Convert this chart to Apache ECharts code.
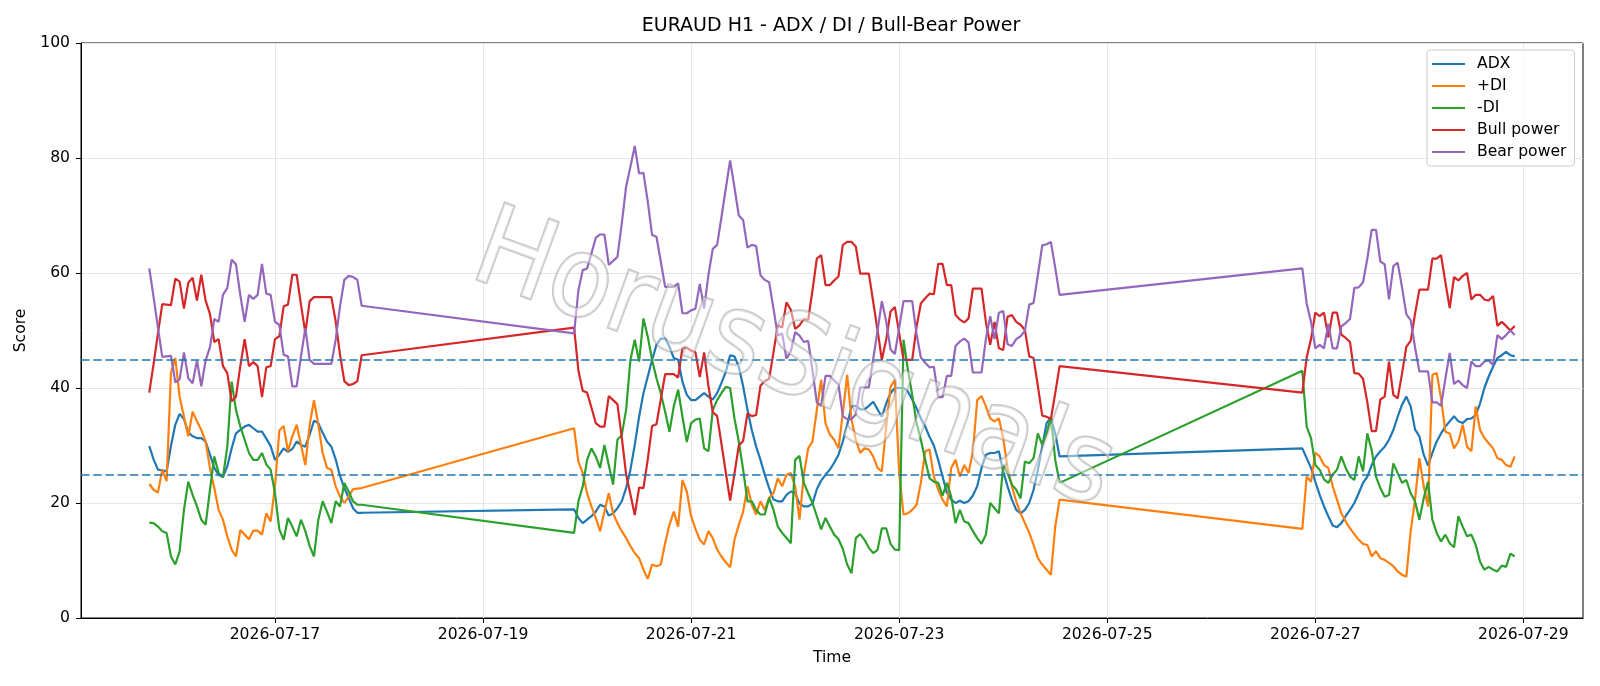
<!DOCTYPE html>
<html>
<head>
<meta charset="utf-8">
<title>EURAUD H1 - ADX / DI / Bull-Bear Power</title>
<script src="https://cdn.jsdelivr.net/npm/echarts@6/dist/echarts.min.js"></script>
<style>
  html, body { margin: 0; padding: 0; background: #fff; }
  #chart { width: 1600px; height: 686px; }
</style>
</head>
<body>
<div id="chart"></div>
<script>
const FONT = '"DejaVu Sans", sans-serif'

// hourly bars, three trading blocks (weekend gaps in between)
const segmentStarts = [[2026, 7, 15, 19], [2026, 7, 19, 21], [2026, 7, 26, 21]]
const segmentHours = [50, 113, 50]
const tickDays = ['2026-07-17', '2026-07-19', '2026-07-21', '2026-07-23', '2026-07-25', '2026-07-27', '2026-07-29']
const yTicks = [0, 20, 40, 60, 80, 100]
const levels = [45, 25]

const seriesNames = ['ADX', '+DI', '-DI', 'Bull power', 'Bear power']
const colors = ['#1f77b4', '#ff7f0e', '#2ca02c', '#d62728', '#9467bd']

const adx = [
  29.9, 27.6, 25.8, 25.7, 25.5, 29.9, 33.6, 35.5, 34.6, 32.3,
  31.6, 31.3, 31.3, 30.7, 28.4, 26.1, 24.9, 24.5, 26.4, 29.5,
  32.1, 32.7, 33.3, 33.6, 33.0, 32.4, 32.4, 31.2, 29.9, 27.5,
  28.4, 29.5, 28.9, 29.4, 30.7, 30.1, 29.8, 31.9, 34.3, 33.9,
  32.2, 30.7, 29.8, 27.6, 24.7, 22.6, 20.9, 19.1, 18.3, 18.3,
  18.9, 17.4, 16.5, 17.1, 17.7, 18.5, 19.7, 19.4, 17.8, 18.2,
  19.1, 20.3, 22.6, 25.8, 30.1, 35.0, 39.1, 42.0, 44.9, 47.5,
  48.6, 48.6, 47.2, 45.2, 44.9, 41.1, 38.8, 37.9, 37.9, 38.5,
  39.1, 38.5, 38.0, 39.1, 40.9, 42.8, 45.7, 45.5, 43.7, 40.3,
  36.2, 32.7, 29.8, 27.5, 24.9, 22.6, 20.6, 20.3, 20.3, 21.4,
  22.0, 21.7, 19.9, 19.4, 19.4, 19.9, 22.4, 23.9, 24.9, 25.8,
  27.0, 28.4, 30.7, 33.6, 36.8, 36.9, 36.3, 36.3, 36.9, 37.6,
  36.3, 35.0, 37.3, 39.1, 40.0, 40.0, 40.0, 39.4, 38.0, 36.5,
  34.7, 33.3, 31.5, 30.0, 27.5, 24.6, 21.8, 20.6, 20.0, 20.4,
  20.0, 20.3, 21.3, 22.9, 26.1, 28.4, 28.7, 28.7, 29.0, 25.5,
  22.9, 20.6, 18.8, 18.2, 18.8, 20.0, 22.3, 25.8, 29.8, 33.9,
  34.9, 32.1, 28.1,
  29.5, 27.8, 26.1, 23.7, 21.4, 19.4, 17.7, 16.1, 15.8, 16.5,
  17.7, 18.8, 20.0, 21.7, 23.5, 24.6, 26.6, 28.1, 29.0, 29.8,
  31.0, 32.7, 35.0, 37.1, 38.5, 36.8, 32.8, 31.6, 28.4, 26.5,
  28.7, 30.7, 32.1, 33.3, 34.2, 35.1, 34.2, 33.9, 34.6, 34.7,
  35.3, 37.3, 40.0, 42.0, 43.7, 45.2, 45.7, 46.3, 45.7, 45.5
]

const plusDi = [
  23.3, 22.3, 21.8, 25.8, 23.8, 42.6, 45.2, 38.5, 35.0, 31.6,
  35.9, 34.2, 32.7, 30.7, 26.1, 22.6, 18.8, 17.1, 14.2, 11.9,
  10.7, 15.3, 14.5, 13.7, 15.2, 15.2, 14.5, 18.2, 16.8, 22.9,
  32.6, 33.4, 29.0, 31.6, 33.6, 30.1, 26.6, 33.6, 37.9, 33.6,
  28.7, 26.1, 25.8, 22.9, 21.1, 20.0, 21.1, 22.4, 22.5, 22.6,
  33.0, 27.2, 25.2, 21.7, 19.4, 17.4, 15.1, 18.5, 21.7, 18.2,
  16.5, 15.1, 13.9, 12.5, 11.3, 10.4, 8.4, 6.8, 9.3, 9.0,
  9.3, 13.0, 16.2, 18.5, 15.9, 24.0, 22.0, 17.7, 15.5, 13.6,
  12.8, 15.1, 13.9, 11.9, 10.7, 9.7, 8.8, 13.6, 16.2, 18.5,
  22.9, 19.7, 18.0, 20.3, 18.8, 20.9, 21.7, 24.3, 22.9, 24.9,
  25.2, 22.9, 17.1, 24.9, 29.5, 30.7, 36.2, 41.4, 33.9, 31.9,
  31.0, 29.5, 35.6, 42.3, 34.5, 31.0, 28.7, 29.5, 29.3, 28.1,
  26.1, 25.5, 33.3, 40.2, 41.4, 25.2, 18.0, 18.2, 18.8, 19.7,
  23.5, 29.0, 29.3, 24.6, 22.3, 20.6, 19.4, 26.1, 27.5, 24.6,
  26.6, 25.2, 28.9, 37.9, 38.6, 36.8, 34.7, 34.2, 34.7, 31.3,
  26.1, 22.9, 20.3, 18.2, 16.5, 14.8, 12.7, 10.4, 9.3, 8.4,
  7.5, 15.9, 20.6,
  15.5, 24.6, 23.7, 28.7, 28.1, 26.6, 26.1, 22.9, 20.6, 18.2,
  16.8, 15.6, 14.6, 13.6, 12.9, 12.7, 10.7, 11.6, 10.4, 10.1,
  9.6, 9.0, 8.1, 7.5, 7.2, 15.1, 20.6, 27.8, 22.9, 19.4,
  42.3, 42.6, 38.2, 32.4, 32.1, 29.5, 30.7, 33.6, 29.8, 29.0,
  36.8, 32.7, 31.3, 30.4, 29.5, 27.8, 27.5, 26.6, 26.3, 28.1
]

const minusDi = [
  16.6, 16.5, 15.9, 15.1, 14.8, 10.7, 9.3, 11.6, 18.8, 23.7,
  21.4, 19.4, 17.1, 16.2, 22.3, 28.1, 25.2, 24.5, 29.8, 41.1,
  36.2, 33.3, 31.0, 28.7, 27.5, 27.5, 28.7, 26.7, 25.8, 21.7,
  15.4, 13.6, 17.4, 15.9, 14.2, 17.1, 15.1, 12.5, 10.7, 17.1,
  20.3, 18.5, 16.5, 20.3, 19.4, 23.5, 22.0, 20.3, 19.7, 19.7,
  14.8, 20.3, 22.9, 27.5, 29.5, 28.1, 26.1, 30.1, 26.6, 23.2,
  31.0, 31.8, 36.2, 44.9, 48.4, 44.6, 52.1, 48.9, 44.9, 41.7,
  39.1, 35.9, 32.4, 36.8, 39.7, 35.0, 30.6, 33.9, 34.5, 34.7,
  29.5, 29.0, 36.2, 37.9, 39.1, 40.2, 40.0, 34.7, 30.7, 25.8,
  20.3, 20.3, 18.8, 18.0, 18.0, 20.9, 18.8, 15.9, 14.8, 13.9,
  13.0, 27.5, 28.2, 23.5, 21.7, 20.0, 17.7, 15.4, 17.4, 15.9,
  14.5, 13.7, 12.0, 9.3, 7.8, 13.9, 14.6, 13.6, 12.2, 11.3,
  11.8, 15.6, 15.6, 12.9, 11.9, 11.8, 48.4, 43.2, 38.8, 33.9,
  31.0, 27.5, 24.3, 23.7, 23.5, 21.3, 23.5, 21.1, 16.5, 18.8,
  16.8, 16.5, 15.1, 13.9, 12.9, 14.5, 20.0, 19.1, 18.2, 26.6,
  25.2, 23.2, 22.3, 20.8, 27.2, 26.9, 27.8, 32.1, 30.1, 32.1,
  35.0, 27.5, 23.5,
  43.0, 33.3, 31.3, 26.6, 25.8, 24.1, 23.5, 24.9, 25.8, 28.1,
  26.1, 24.6, 24.0, 28.1, 25.5, 32.1, 29.2, 24.6, 22.6, 21.1,
  21.4, 26.9, 25.2, 23.5, 24.0, 21.7, 20.3, 17.1, 20.8, 23.7,
  17.1, 14.8, 13.3, 14.5, 13.0, 12.3, 17.7, 15.9, 14.2, 14.5,
  12.7, 9.8, 8.4, 8.9, 8.4, 8.1, 9.1, 8.9, 11.2, 10.7
]

const bullPower = [
  39.2, 44.2, 49.5, 54.6, 54.5, 54.4, 59.0, 58.5, 53.8, 58.3,
  59.2, 55.2, 59.7, 55.2, 52.9, 48.0, 48.5, 43.8, 42.6, 37.7,
  38.5, 43.8, 48.5, 43.8, 44.5, 43.8, 38.4, 43.6, 43.8, 48.5,
  49.0, 54.2, 54.5, 59.7, 59.7, 54.5, 49.6, 55.1, 55.8, 55.8,
  55.8, 55.8, 55.8, 51.6, 45.8, 41.2, 40.5, 40.7, 41.2, 45.7,
  50.5, 43.0, 39.5, 39.2, 36.6, 33.9, 33.3, 33.3, 38.6, 37.9,
  37.2, 31.4, 25.0, 21.5, 17.9, 22.7, 22.6, 27.6, 33.4, 33.7,
  38.0, 42.4, 42.4, 42.4, 41.8, 47.0, 47.0, 46.5, 46.2, 41.9,
  46.2, 40.3, 35.8, 35.1, 30.3, 25.3, 20.4, 25.1, 30.0, 30.8,
  35.6, 35.1, 35.3, 40.4, 41.2, 41.6, 46.2, 50.9, 50.5, 54.9,
  53.6, 50.3, 50.9, 52.0, 51.8, 57.0, 62.5, 63.1, 57.9, 57.9,
  58.7, 59.4, 64.9, 65.4, 65.4, 64.6, 59.9, 59.9, 59.9, 55.0,
  50.1, 44.9, 48.4, 53.3, 54.1, 49.5, 44.9, 44.9, 44.9, 50.6,
  54.7, 55.6, 56.4, 56.3, 61.6, 61.6, 57.9, 57.9, 52.7, 51.9,
  51.4, 52.1, 57.3, 57.3, 57.3, 51.5, 47.5, 51.5, 46.9, 46.6,
  52.4, 52.7, 51.5, 51.0, 50.1, 45.5, 45.2, 40.3, 35.2, 35.0,
  34.6, 39.1, 43.8,
  39.2, 45.3, 48.5, 53.1, 52.5, 53.1, 48.8, 53.1, 53.1, 49.3,
  48.7, 48.0, 42.6, 42.5, 41.6, 37.5, 32.5, 32.5, 38.0, 38.5,
  44.6, 38.8, 38.2, 42.5, 47.2, 48.2, 52.9, 57.1, 57.1, 57.1,
  62.5, 62.5, 63.1, 58.4, 53.9, 59.3, 58.7, 59.5, 60.0, 55.4,
  56.2, 56.2, 55.4, 55.2, 56.0, 50.8, 51.5, 50.8, 50.0, 50.8
]

const bearPower = [
  60.8, 55.8, 50.5, 45.4, 45.5, 45.6, 41.0, 41.5, 46.2, 41.7,
  40.8, 44.8, 40.3, 44.8, 47.1, 52.0, 51.5, 56.2, 57.4, 62.3,
  61.5, 56.2, 51.5, 56.2, 55.5, 56.2, 61.6, 56.4, 56.2, 51.5,
  51.0, 45.8, 45.5, 40.3, 40.3, 45.5, 50.4, 44.9, 44.2, 44.2,
  44.2, 44.2, 44.2, 48.4, 54.2, 58.8, 59.5, 59.3, 58.8, 54.3,
  49.5, 57.0, 60.5, 60.8, 63.4, 66.1, 66.7, 66.7, 61.4, 62.1,
  62.8, 68.6, 75.0, 78.5, 82.1, 77.3, 77.4, 72.4, 66.6, 66.3,
  62.0, 57.6, 57.6, 57.6, 58.2, 53.0, 53.0, 53.5, 53.8, 58.1,
  53.8, 59.7, 64.2, 64.9, 69.7, 74.7, 79.6, 74.9, 70.0, 69.2,
  64.4, 64.9, 64.7, 59.6, 58.8, 58.4, 53.8, 49.1, 49.5, 45.1,
  46.4, 49.7, 49.1, 48.0, 48.2, 43.0, 37.5, 36.9, 42.1, 42.1,
  41.3, 40.6, 35.1, 34.6, 34.6, 35.4, 40.1, 40.1, 40.1, 45.0,
  49.9, 55.1, 51.6, 46.7, 45.9, 50.5, 55.1, 55.1, 55.1, 49.4,
  45.3, 44.4, 43.6, 43.7, 38.4, 38.4, 42.1, 42.1, 47.3, 48.1,
  48.6, 47.9, 42.7, 42.7, 42.7, 48.5, 52.5, 48.5, 53.1, 53.4,
  47.6, 47.3, 48.5, 49.0, 49.9, 54.5, 54.8, 59.7, 64.8, 65.0,
  65.4, 60.9, 56.2,
  60.8, 54.7, 51.5, 46.9, 47.5, 46.9, 51.2, 46.9, 46.9, 50.7,
  51.3, 52.0, 57.4, 57.5, 58.4, 62.5, 67.5, 67.5, 62.0, 61.5,
  55.4, 61.2, 61.8, 57.5, 52.8, 51.8, 47.1, 42.9, 42.9, 42.9,
  37.5, 37.5, 36.9, 41.6, 46.1, 40.7, 41.3, 40.5, 40.0, 44.6,
  43.8, 43.8, 44.6, 44.8, 44.0, 49.2, 48.5, 49.2, 50.0, 49.2
]

const HOUR = 3600 * 1000
const times = []
segmentStarts.forEach((s, i) => {
  const base = new Date(s[0], s[1] - 1, s[2], s[3]).getTime()
  for (let h = 0; h < segmentHours[i]; h++) times.push(base + h * HOUR)
})
const tickValues = tickDays.map(d => {
  const [y, m, dd] = d.split('-').map(Number)
  return new Date(y, m - 1, dd).getTime()
})

// matplotlib-like 5% margins on the x range
const span = times[times.length - 1] - times[0]
const xMin = times[0] - span * 0.05
const xMax = times[times.length - 1] + span * 0.05

const pad2 = n => (n < 10 ? '0' : '') + n
const fmtDay = v => {
  const d = new Date(v)
  return d.getFullYear() + '-' + pad2(d.getMonth() + 1) + '-' + pad2(d.getDate())
}

const values = [adx, plusDi, minusDi, bullPower, bearPower]
const lineSeries = seriesNames.map((name, i) => ({
  name,
  type: 'line',
  data: times.map((t, j) => [t, values[i][j]]),
  showSymbol: false,
  symbol: 'none',
  lineStyle: { color: colors[i], width: 2.2 },
  itemStyle: { color: colors[i] },
  animation: false
}))

const levelSeries = {
  name: 'levels',
  type: 'line',
  data: [],
  silent: true,
  animation: false,
  markLine: {
    silent: true,
    symbol: 'none',
    label: { show: false },
    lineStyle: { color: '#1f77b4', width: 1.6, type: [8.5, 3.7] },
    data: levels.map(v => ({ yAxis: v }))
  }
}

const chart = echarts.init(document.getElementById('chart'), null, { renderer: 'canvas' })
chart.setOption({
  animation: false,
  backgroundColor: '#ffffff',
  title: {
    text: 'EURAUD H1 - ADX / DI / Bull-Bear Power',
    left: 831, top: 15, textAlign: 'center', padding: 0,
    textStyle: { fontFamily: FONT, fontSize: 19, fontWeight: 'normal', color: '#000', lineHeight: 22 }
  },
  grid: {
    left: 81, right: 17, top: 43, bottom: 68,
    show: true, borderColor: '#000', borderWidth: 1, backgroundColor: 'transparent'
  },
  legend: {
    data: seriesNames,
    orient: 'vertical',
    left: 1427, top: 50,
    padding: [5, 8, 5, 5],
    itemWidth: 33, itemHeight: 2.2, itemGap: 4,
    icon: 'rect',
    backgroundColor: 'rgba(255,255,255,0.8)',
    borderColor: '#cccccc', borderWidth: 1, borderRadius: 3,
    textStyle: { fontFamily: FONT, fontSize: 15.6, color: '#000', lineHeight: 18, padding: [0, 0, 0, 7] }
  },
  xAxis: {
    type: 'value',
    min: xMin, max: xMax,
    name: 'Time', nameLocation: 'middle', nameGap: 32,
    nameTextStyle: { fontFamily: FONT, fontSize: 15.6, color: '#000' },
    axisLine: { show: true, lineStyle: { color: '#000', width: 1 } },
    axisTick: { show: true, length: 5, lineStyle: { color: '#000' }, customValues: tickValues },
    axisLabel: {
      customValues: tickValues, formatter: fmtDay,
      fontFamily: FONT, fontSize: 15.6, color: '#000', margin: 9
    },
    splitLine: { show: true, lineStyle: { color: '#e6e6e6', width: 1 } }
  },
  yAxis: {
    type: 'value',
    min: yTicks[0], max: yTicks[yTicks.length - 1], interval: yTicks[1] - yTicks[0],
    name: 'Score', nameLocation: 'middle', nameGap: 43, nameRotate: 90,
    nameTextStyle: { fontFamily: FONT, fontSize: 15.6, color: '#000' },
    axisLine: { show: true, lineStyle: { color: '#000', width: 1 } },
    axisTick: { show: true, length: 5, lineStyle: { color: '#000' } },
    axisLabel: { fontFamily: FONT, fontSize: 15.6, color: '#000', margin: 11 },
    splitLine: { show: true, lineStyle: { color: '#e6e6e6', width: 1 } }
  },
  graphic: [{
    type: 'text',
    x: 793, y: 364,
    rotation: -0.35,
    scaleX: 0.92,
    z: 100,
    silent: true,
    style: {
      text: 'HorusSignals',
      font: '112px "DejaVu Sans", sans-serif',
      align: 'center', verticalAlign: 'middle',
      fill: 'rgba(255,255,255,0.45)',
      stroke: 'rgba(140,140,140,0.5)',
      lineWidth: 2.5
    }
  }],
  series: [...lineSeries, levelSeries]
})
</script>
</body>
</html>
